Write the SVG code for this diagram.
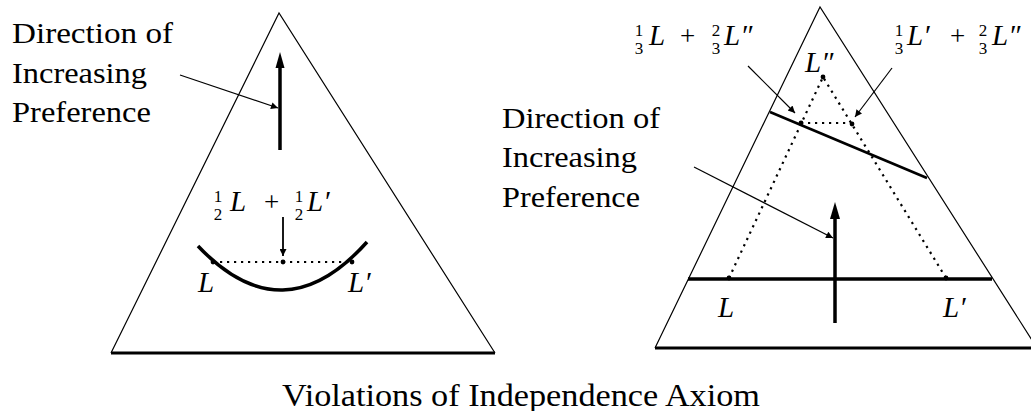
<svg xmlns="http://www.w3.org/2000/svg" width="1031" height="411" viewBox="0 0 1031 411">
<style>
.thin{fill:none;stroke:#000;stroke-width:1.2}
.thick{fill:none;stroke:#000;stroke-width:3.5}
.base{fill:none;stroke:#000;stroke-width:3}
.dot{fill:none;stroke:#000;stroke-width:2.2;stroke-dasharray:2.2 4.8}
.ptr{fill:none;stroke:#000;stroke-width:1.2}
</style>
<defs>
<marker id="ah" viewBox="0 0 10 10" refX="10" refY="5" markerWidth="10" markerHeight="7" markerUnits="userSpaceOnUse" orient="auto">
<path d="M0,0 L10,5 L0,10 Z" fill="#000"/>
</marker>
</defs>

<g id="left-triangle">
<path class="thin" d="M111,353 L279,13 L495,353"/>
<path class="base" d="M111,353 H495"/>
</g>
<g id="left-direction-label">
<text x="12" y="43" font-family="Liberation Serif" font-size="29" textLength="161" lengthAdjust="spacingAndGlyphs">Direction of</text>
<text x="12" y="83" font-family="Liberation Serif" font-size="29" textLength="135" lengthAdjust="spacingAndGlyphs">Increasing</text>
<text x="12" y="122" font-family="Liberation Serif" font-size="29" textLength="139" lengthAdjust="spacingAndGlyphs">Preference</text>
</g>
<g id="left-preference-arrow">
<path class="thick" d="M280,150 V64"/>
<path d="M280,52 L275.5,68 L284.5,68 Z" fill="#000"/>
</g>
<g id="left-indifference-curve">
<path d="M198,246 Q283,336 367,242" fill="none" stroke="#000" stroke-width="3.5"/>
</g>
<g id="left-mix-label">
<text x="218" y="202" font-family="Liberation Serif" font-size="17" text-anchor="middle">1</text>
<text x="218" y="220" font-family="Liberation Serif" font-size="17" text-anchor="middle">2</text>
<text x="230" y="211" font-family="Liberation Serif" font-size="29" font-style="italic">L</text>
<text x="264" y="211" font-family="Liberation Serif" font-size="27">+</text>
<text x="299" y="202" font-family="Liberation Serif" font-size="17" text-anchor="middle">1</text>
<text x="299" y="220" font-family="Liberation Serif" font-size="17" text-anchor="middle">2</text>
<text x="307" y="211" font-family="Liberation Serif" font-size="29" font-style="italic">L′</text>
</g>
<g id="left-points">
<circle cx="213" cy="262" r="2.4"/>
<circle cx="283" cy="262" r="2.4"/>
<circle cx="352" cy="262" r="2.4"/>
<text x="198" y="292" font-family="Liberation Serif" font-size="29" font-style="italic">L</text>
<text x="348" y="292" font-family="Liberation Serif" font-size="29" font-style="italic">L′</text>
</g>

<g id="right-triangle">
<path class="thin" d="M655,348 L820,7 L1037,348"/>
<path class="base" d="M655,348 H1031"/>
</g>
<g id="right-indifference-lines">
<path class="thick" d="M688,279 H992"/>
<path d="M770,112 L927,178" fill="none" stroke="#000" stroke-width="2.6"/>
</g>
<g id="right-preference-arrow">
<path class="thick" d="M835,323 V214"/>
<path d="M835,202 L830,219 L840,219 Z" fill="#000"/>
</g>
<g id="right-direction-label">
<text x="502" y="128" font-family="Liberation Serif" font-size="29" textLength="158" lengthAdjust="spacingAndGlyphs">Direction of</text>
<text x="502" y="167" font-family="Liberation Serif" font-size="29" textLength="135" lengthAdjust="spacingAndGlyphs">Increasing</text>
<text x="502" y="207" font-family="Liberation Serif" font-size="29" textLength="138" lengthAdjust="spacingAndGlyphs">Preference</text>
</g>
<g id="right-points">
<circle cx="729" cy="278" r="2.4"/>
<circle cx="946" cy="278" r="2.4"/>
<circle cx="823" cy="77" r="2.4"/>
<circle cx="801" cy="123" r="2.4"/>
<circle cx="852" cy="124" r="2.4"/>
<text x="718" y="317" font-family="Liberation Serif" font-size="29" font-style="italic">L</text>
<text x="943" y="317" font-family="Liberation Serif" font-size="29" font-style="italic">L′</text>
<text x="805" y="72" font-family="Liberation Serif" font-size="29" font-style="italic">L″</text>
</g>
<g id="right-mix-label-1">
<text x="639" y="36" font-family="Liberation Serif" font-size="17" text-anchor="middle">1</text>
<text x="639" y="54" font-family="Liberation Serif" font-size="17" text-anchor="middle">3</text>
<text x="649" y="45" font-family="Liberation Serif" font-size="29" font-style="italic">L</text>
<text x="680" y="45" font-family="Liberation Serif" font-size="27">+</text>
<text x="716" y="36" font-family="Liberation Serif" font-size="17" text-anchor="middle">2</text>
<text x="716" y="54" font-family="Liberation Serif" font-size="17" text-anchor="middle">3</text>
<text x="724" y="45" font-family="Liberation Serif" font-size="29" font-style="italic">L″</text>
</g>
<g id="right-mix-label-2">
<text x="899" y="36" font-family="Liberation Serif" font-size="17" text-anchor="middle">1</text>
<text x="899" y="54" font-family="Liberation Serif" font-size="17" text-anchor="middle">3</text>
<text x="907" y="45" font-family="Liberation Serif" font-size="29" font-style="italic">L′</text>
<text x="950" y="45" font-family="Liberation Serif" font-size="27">+</text>
<text x="983" y="36" font-family="Liberation Serif" font-size="17" text-anchor="middle">2</text>
<text x="983" y="54" font-family="Liberation Serif" font-size="17" text-anchor="middle">3</text>
<text x="992" y="45" font-family="Liberation Serif" font-size="29" font-style="italic">L″</text>
</g>

<g id="connectors">
<path class="ptr" d="M180,75 L278,108" marker-end="url(#ah)"/>
<path d="M283,217 V256" fill="none" stroke="#000" stroke-width="1.8" marker-end="url(#ah)"/>
<path class="ptr" d="M694,167 L833,238" marker-end="url(#ah)"/>
<path class="ptr" d="M748,66 L795,113" marker-end="url(#ah)"/>
<path class="ptr" d="M892,68 L855,117" marker-end="url(#ah)"/>
<path class="dot" d="M213,262 H352"/>
<path class="dot" d="M729,278 L823,77 L946,278"/>
<path class="dot" d="M801,123 H852"/>
</g>

<g id="title">
<text x="282" y="406" font-family="Liberation Serif" font-size="31" textLength="478" lengthAdjust="spacingAndGlyphs">Violations of Independence Axiom</text>
</g>
</svg>
